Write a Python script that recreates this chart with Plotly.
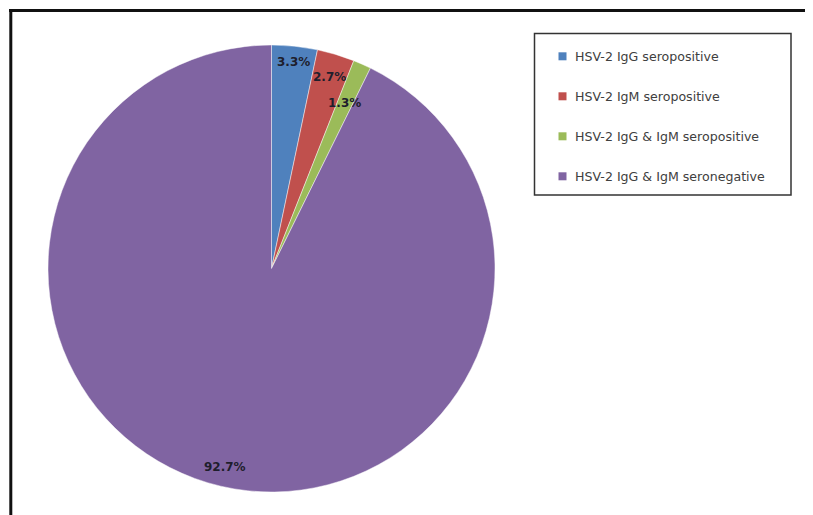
import math
import plotly.graph_objects as go

labels = ["HSV-2 IgG seropositive", "HSV-2 IgM seropositive",
          "HSV-2 IgG & IgM seropositive", "HSV-2 IgG & IgM seronegative"]
values = [3.3, 2.7, 1.3, 92.7]
text_labels = ["3.3%", "2.7%", "1.3%", "92.7%"]
colors = ["#4F81BD", "#C0504D", "#9BBB59", "#8064A2"]
label_radius = [0.93, 0.895, 0.81, 0.91]

# page body has an 8px margin; the figure is placed at (8, 8)
OFF = 8
W, H = 813 - OFF, 515 - OFF
cx, cy, R = 271.5 - OFF, 268.5 - OFF, 223.5


def px_x(x):
    return (x - OFF) / W


def px_y(y):
    return 1 - (y - OFF) / H


fig = go.Figure()
fig.add_trace(go.Pie(
    labels=labels, values=values, sort=False, direction="clockwise", rotation=0,
    marker=dict(colors=colors, line=dict(color="rgba(255,255,255,0.45)", width=1)),
    textinfo="none", hoverinfo="label+percent", showlegend=False,
    domain=dict(x=[(cx - R) / W, (cx + R) / W], y=[1 - (cy + R) / H, 1 - (cy - R) / H]),
))

annotations = []
total = sum(values)
cum = 0.0
for v, t, f in zip(values, text_labels, label_radius):
    mid = (cum + v / 2) / total * 2 * math.pi
    cum += v
    px = cx + R * f * math.sin(mid)
    py = cy - R * f * math.cos(mid)
    annotations.append(dict(x=px / W, y=1 - py / H, xref="paper", yref="paper",
                            xanchor="center", yanchor="middle",
                            text="<b>" + t + "</b>", showarrow=False,
                            font=dict(family="DejaVu Sans", size=12, color="#1E1E2C")))

shapes = [
    dict(type="line", xref="paper", yref="paper", x0=px_x(9), x1=1, y0=px_y(10.5), y1=px_y(10.5),
         line=dict(color="#111111", width=3)),
    dict(type="line", xref="paper", yref="paper", x0=px_x(10.8), x1=px_x(10.8), y0=px_y(9), y1=0,
         line=dict(color="#111111", width=3)),
    dict(type="rect", xref="paper", yref="paper", x0=px_x(534.5), x1=px_x(791),
         y0=px_y(195), y1=px_y(33.5), line=dict(color="#333333", width=1.5),
         fillcolor="rgba(0,0,0,0)"),
]

leg_y0, leg_dy = 56.3, 40
for i, (lab, c) in enumerate(zip(labels, colors)):
    yc = leg_y0 + i * leg_dy
    shapes.append(dict(type="rect", xref="paper", yref="paper",
                       x0=px_x(558.5), x1=px_x(566.5), y0=px_y(yc + 4), y1=px_y(yc - 4),
                       line=dict(width=0), fillcolor=c))
    annotations.append(dict(x=px_x(572.5), y=px_y(yc), xref="paper", yref="paper",
                            xanchor="left", yanchor="middle", text=lab, showarrow=False,
                            font=dict(family="DejaVu Sans", size=12.6, color="#404040")))

fig.update_layout(
    width=W, height=H, margin=dict(l=0, r=0, t=0, b=0),
    paper_bgcolor="white", plot_bgcolor="white",
    shapes=shapes, annotations=annotations,
)
fig.write_html("out.html")
